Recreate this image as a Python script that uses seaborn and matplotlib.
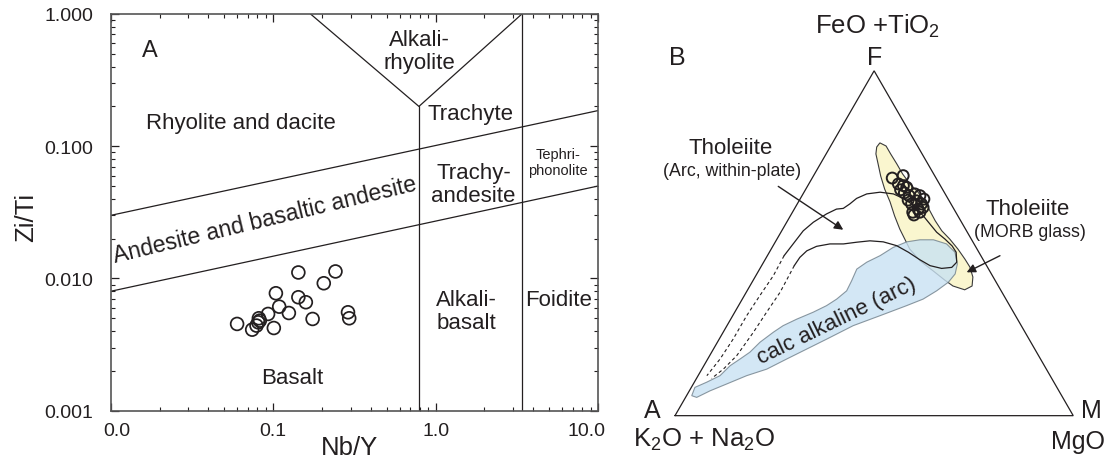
import numpy as np
import pandas as pd
import matplotlib
matplotlib.use("Agg")
import matplotlib.pyplot as plt
import matplotlib.transforms as mtrans
from matplotlib.ticker import NullFormatter
import seaborn as sns

# ---------------- Panel A : Nb/Y vs Zr/Ti ----------------
nb_y = [0.060, 0.0743, 0.0817, 0.0810, 0.0790, 0.0828, 0.0931, 0.101, 0.104, 0.109,
        0.125, 0.143, 0.143, 0.159, 0.175, 0.205, 0.242, 0.289, 0.294]
zr_ti = [0.00453, 0.00410, 0.00500, 0.00466, 0.00440, 0.00480, 0.00539, 0.00422, 0.00773, 0.00612,
         0.00548, 0.0111, 0.00721, 0.00661, 0.00494, 0.0092, 0.0113, 0.00555, 0.00500]

upper_nby = [0.01, 10.0]
upper_zrti = [0.030, 0.186]
lower_nby = [0.01, 10.0]
lower_zrti = [0.008, 0.050]
v_nby = [0.17, 0.79, 3.4]
v_zrti = [1.0, 0.2, 1.0]
alk1_nby = [0.79, 0.79]
alk1_zrti = [0.2, 0.001]
alk2_nby = [3.4, 3.4]
alk2_zrti = [1.0, 0.001]

x_ticks = [0.01, 0.1, 1.0, 10.0]
x_ticklabels = ["0.0", "0.1", "1.0", "10.0"]
y_ticks = [0.001, 0.01, 0.1, 1.0]
y_ticklabels = ["0.001", "0.010", "0.100", "1.000"]

# ---------------- Panel B : AFM ternary (percent F and M; A = 100 - F - M) ----------------
sample_F = [68.9, 69.6, 67.2, 65.5, 66.2, 64.6, 63.8, 64.3, 63.8, 62.8,
            62.3, 61.4, 61.4, 59.9, 59.0, 59.0, 66.7, 62.5, 60.4, 58.2]
sample_M = [20.1, 22.5, 22.5, 23.9, 25.1, 25.3, 26.9, 28.1, 29.6, 31.1,
            29.5, 31.2, 28.7, 31.1, 30.2, 32.0, 24.0, 27.3, 32.1, 30.9]

morb_F = [36.5, 37.6, 39.3, 42.0, 44.9, 48.3, 51.2, 54.1, 57.9, 62.0, 65.7, 69.5, 73.0, 75.9, 77.9, 79.1,
          78.2, 75.9, 73.0, 70.1, 67.2, 64.9, 62.3, 59.4, 56.5, 53.6, 51.2, 48.3, 45.4, 43.1, 40.2, 37.6]
morb_M = [54.5, 51.0, 48.1, 43.8, 39.1, 34.8, 32.1, 29.4, 26.2, 23.0, 19.8, 16.9, 14.5, 12.5, 11.7, 11.9,
          13.9, 16.2, 19.2, 22.1, 25.4, 28.5, 31.6, 34.3, 37.1, 40.2, 43.4, 46.9, 50.1, 52.5, 54.7, 55.8]

calc_F = [5.8, 8.2, 9.7, 11.6, 14.5, 16.4, 18.4, 21.3, 24.2, 26.1, 28.0, 30.0, 31.9, 33.8, 36.2, 39.1,
          42.5, 44.5, 46.4, 48.8, 50.4, 51.0, 51.0, 49.8, 47.4, 44.0, 41.1, 38.7, 36.2, 33.8, 31.9, 29.0,
          26.1, 22.2, 19.3, 16.4, 13.5, 11.6, 9.2, 7.2, 5.3]
calc_M = [1.3, 0.9, 3.1, 5.5, 6.6, 8.1, 9.6, 10.7, 12.6, 14.1, 16.6, 19.7, 22.1, 23.7, 25.0, 24.8,
          24.4, 25.9, 28.3, 30.4, 33.0, 36.0, 39.4, 43.3, 46.6, 48.9, 49.8, 49.3, 47.6, 45.4, 42.2, 37.0,
          31.7, 27.0, 23.4, 19.8, 16.3, 12.2, 8.4, 5.2, 2.8]

thol_F = [46.4, 51.2, 53.6, 56.1, 58.5, 59.9, 60.1, 61.4, 63.0, 64.3, 64.8, 64.3, 63.0, 61.4, 59.9, 58.0,
          55.6, 53.2, 51.2, 49.2, 47.4, 44.5, 43.0, 42.7, 43.5, 45.2, 47.4, 49.3, 50.4, 50.7, 50.3, 49.8,
          49.8, 49.1, 47.8, 45.9, 43.5]
thol_M = [4.2, 5.0, 5.4, 6.7, 8.8, 10.6, 12.2, 13.2, 14.1, 16.0, 19.1, 22.7, 25.8, 28.7, 30.7, 33.3,
          36.2, 39.1, 42.2, 45.0, 46.9, 48.5, 48.0, 45.6, 42.3, 38.9, 34.9, 31.0, 27.1, 23.6, 20.5, 17.4,
          14.0, 11.0, 9.2, 8.4, 8.2]

dash1_F = [46.4, 40.6, 34.8, 29.0, 22.2, 16.4, 11.6]
dash1_M = [4.2, 4.4, 3.9, 3.5, 3.5, 3.1, 2.2]
dash2_F = [43.5, 35.8, 30.0, 24.2, 17.4, 13.5, 10.8]
dash2_M = [8.2, 8.5, 8.0, 7.6, 6.8, 5.4, 3.8]

tri_F = [0, 100, 0, 0]
tri_M = [0, 0, 100, 0]


def tern_xy(F, M):
    f = np.asarray(F, dtype=float) / 100.0
    m = np.asarray(M, dtype=float) / 100.0
    return m + f / 2.0, f * np.sqrt(3) / 2.0


# ---------------- style ----------------
sns.set_theme(style="ticks")
plt.rcParams["font.family"] = ["Liberation Sans", "DejaVu Sans"]
plt.rcParams["mathtext.fontset"] = "custom"
plt.rcParams["mathtext.rm"] = "Liberation Sans"
plt.rcParams["mathtext.it"] = "Liberation Sans:italic"
plt.rcParams["mathtext.bf"] = "Liberation Sans:bold"
INK = "#231f20"
LBL = 16

fig = plt.figure(figsize=(11.09, 4.64), dpi=100)

# ================= Panel A =================
ax1 = fig.add_axes([0.09982, 0.11272, 0.43940, 0.85496])
ax1.set_xscale("log")
ax1.set_yscale("log")
ax1.set_xlim(0.01, 10)
ax1.set_ylim(0.001, 1)

for xs, ys in [(upper_nby, upper_zrti), (lower_nby, lower_zrti), (v_nby, v_zrti),
               (alk1_nby, alk1_zrti), (alk2_nby, alk2_zrti)]:
    ax1.plot(xs, ys, color=INK, lw=0.9, zorder=2)

sns.scatterplot(x=nb_y, y=zr_ti, ax=ax1, s=85, marker="o", facecolor="none",
                edgecolor=INK, linewidth=1.25, legend=False, zorder=3)

ax1.set_xticks(x_ticks)
ax1.set_xticklabels(x_ticklabels)
ax1.set_yticks(y_ticks)
ax1.set_yticklabels(y_ticklabels)
ax1.xaxis.set_minor_formatter(NullFormatter())
ax1.yaxis.set_minor_formatter(NullFormatter())
ax1.tick_params(which="both", direction="in", top=True, right=True, bottom=True, left=True,
                colors=INK, labelsize=14)
ax1.tick_params(which="major", length=6, width=0.9)
ax1.tick_params(which="minor", length=3, width=0.8)
ax1.tick_params(axis="x", which="major", pad=8)
ax1.tick_params(axis="y", which="major", pad=12.5)
for sp in ax1.spines.values():
    sp.set_color("#555555")
    sp.set_linewidth(1.2)

ax1.set_xlabel("Nb/Y", fontsize=18.5, color=INK)
ax1.set_ylabel("Zi/Ti", fontsize=18.5, color=INK)
ax1.xaxis.set_label_coords(0.491, -0.060)
ax1.yaxis.set_label_coords(-0.149, 0.49)

# nudge the edge tick labels inward like the reference
xl = ax1.get_xticklabels()
xl[0].set_transform(xl[0].get_transform() + mtrans.ScaledTranslation(6 / 100, 0, fig.dpi_scale_trans))
xl[-1].set_transform(xl[-1].get_transform() + mtrans.ScaledTranslation(-11 / 100, 0, fig.dpi_scale_trans))

txt = dict(color=INK, ha="center", va="center")
ax1.text(0.0175, 0.53, "A", fontsize=17, **txt)
ax1.text(0.798, 0.521, "Alkali-\nrhyolite", fontsize=LBL, linespacing=1.12, **txt)
ax1.text(1.633, 0.178, "Trachyte", fontsize=LBL, **txt)
ax1.text(0.0632, 0.150, "Rhyolite and dacite", fontsize=LBL, **txt)
ax1.text(1.71, 0.0519, "Trachy-\nandesite", fontsize=LBL, linespacing=1.12, **txt)
ax1.text(5.64, 0.0760, "Tephri-\nphonolite", fontsize=10.5, linespacing=1.2, **txt)
ax1.text(0.0889, 0.0282, "Andesite and basaltic andesite", fontsize=16.6, rotation=13.5,
         rotation_mode="anchor", **txt)
ax1.text(1.55, 0.0057, "Alkali-\nbasalt", fontsize=LBL, linespacing=1.12, **txt)
ax1.text(5.71, 0.0069, "Foidite", fontsize=LBL, **txt)
ax1.text(0.132, 0.00178, "Basalt", fontsize=LBL, **txt)

# ================= Panel B (ternary) =================
ax2 = fig.add_axes([0.5907, 0.0591, 0.3950, 0.8153])
ax2.set_xlim(-0.05, 1.05)
ax2.set_ylim(-0.05, 0.9)
ax2.axis("off")

mx, my = tern_xy(morb_F, morb_M)
ax2.fill(mx, my, facecolor="#faf6cf", edgecolor="#3a3a3a", lw=0.8, zorder=1)
cx, cy = tern_xy(calc_F, calc_M)
ax2.fill(cx, cy, facecolor="#c9e2f3", edgecolor="#6f7f8a", lw=0.8, alpha=0.8, zorder=2)

tx, ty = tern_xy(thol_F, thol_M)
ax2.plot(tx, ty, color=INK, lw=0.9, zorder=3)
for dF, dM in [(dash1_F, dash1_M), (dash2_F, dash2_M)]:
    dx, dy = tern_xy(dF, dM)
    ax2.plot(dx, dy, color=INK, lw=0.8, ls=(0, (3, 2.5)), zorder=3)

trx, try_ = tern_xy(tri_F, tri_M)
ax2.plot(trx, try_, color=INK, lw=0.9, zorder=3, solid_joinstyle="miter")

sx, sy = tern_xy(sample_F, sample_M)
df_s = pd.DataFrame({"x": sx, "y": sy})
sns.scatterplot(data=df_s, x="x", y="y", ax=ax2, s=62, marker="o", facecolor="none",
                edgecolor=INK, linewidth=1.4, legend=False, zorder=4)
ax2.set_xlabel("")
ax2.set_ylabel("")

t2 = dict(color=INK, ha="center")
CS = 18
ax2.text(0.508, 0.9626, "FeO +TiO$_2$", fontsize=CS + 0.5, va="baseline", **t2)
ax2.text(0.502, 0.883, "F", fontsize=CS, va="baseline", **t2)
ax2.text(0.0063, 0.883, "B", fontsize=CS, va="baseline", **t2)
ax2.text(-0.0577, -0.004, "A", fontsize=CS, va="baseline", **t2)
ax2.text(0.0728, -0.0753, "K$_2$O + Na$_2$O", fontsize=CS + 0.5, va="baseline", **t2)
ax2.text(1.046, -0.004, "M", fontsize=CS, va="baseline", **t2)
ax2.text(1.012, -0.082, "MgO", fontsize=CS, va="baseline", **t2)
ax2.text(0.140, 0.6596, "Tholeiite", fontsize=LBL, va="baseline", **t2)
ax2.text(0.1444, 0.6043, "(Arc, within-plate)", fontsize=12.8, va="baseline", **t2)
ax2.text(0.885, 0.5064, "Tholeiite", fontsize=LBL, va="baseline", **t2)
ax2.text(0.891, 0.4504, "(MORB glass)", fontsize=12.8, va="baseline", **t2)
ax2.text(0.406, 0.2385, "calc alkaline (arc)", fontsize=LBL, va="center", rotation=26,
         rotation_mode="anchor", **t2)

arrow = dict(arrowstyle="-|>", color=INK, lw=1.0, mutation_scale=13, shrinkA=0, shrinkB=0)
ax2.annotate("", xy=(0.4225, 0.4669), xytext=(0.2593, 0.5758), arrowprops=arrow)
ax2.annotate("", xy=(0.7324, 0.3600), xytext=(0.8160, 0.4017), arrowprops=arrow)

fig.savefig("out.png", dpi=100)
